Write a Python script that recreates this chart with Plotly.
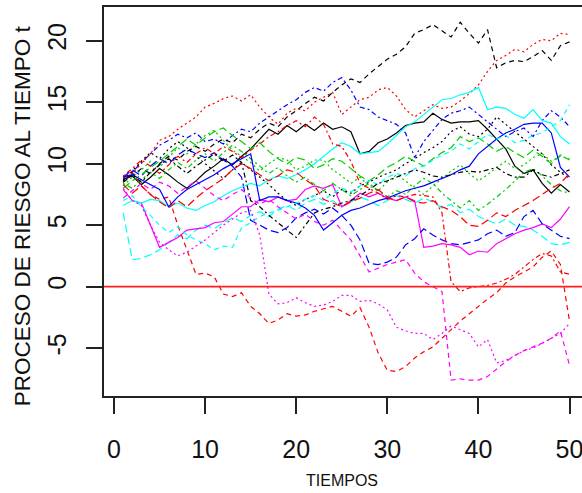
import plotly.graph_objects as go

# time index
t = list(range(1, 51))

s01 = [8.7, 9.0, 8.3, 8.9, 9.6, 9.1, 8.5, 8.0, 8.6, 9.3,
       9.8, 10.4, 9.9, 10.6, 11.2, 12.0, 12.8, 12.4, 13.1, 12.6,
       13.2, 12.7, 13.3, 12.8, 13.0, 12.6, 10.8, 11.0, 11.7, 12.0,
       12.5, 13.1, 13.3, 13.4, 14.1, 13.6, 13.3, 13.4, 13.4, 13.5,
       12.8, 12.0, 11.2, 9.8, 9.2, 9.5, 8.4, 7.6, 8.3, 7.7]
s02 = [8.8, 9.3, 8.2, 7.5, 7.1, 7.3, 5.0, 3.0, 1.0, 1.1,
       0.8, -0.6, -0.8, -0.5, -1.6, -2.2, -3.0, -2.7, -2.2, -2.4,
       -2.3, -2.0, -1.8, -1.6, -2.0, -2.4, -1.7, -3.3, -5.4, -6.8,
       -6.9, -6.5, -5.8, -5.3, -4.9, -4.2, -3.5, -2.8, -2.2, -1.6,
       -1.0, -0.5, 0.3, 0.8, 1.2, 1.6, 2.4, 2.9, 1.8, -2.8]
s03 = [8.2, 8.9, 9.5, 10.2, 9.7, 10.5, 11.3, 10.8, 11.6, 12.3,
       12.7, 11.9, 11.1, 10.6, 10.1, 9.4, 10.0, 10.5, 10.3, 9.5,
       9.8, 10.3, 10.3, 9.5, 9.0, 8.4, 8.9, 8.2, 7.8, 8.5,
       9.1, 8.6, 8.0, 7.5, 8.2, 8.8, 9.4, 9.9, 9.2, 8.6,
       9.1, 9.7, 10.2, 9.6, 9.9, 10.5, 10.8, 10.2, 10.6, 10.4]
s04 = [8.5, 9.3, 10.1, 10.8, 11.5, 11.9, 12.4, 12.1, 12.5, 11.8,
       12.0, 11.6, 12.3, 12.8, 12.6, 13.3, 13.8, 14.3, 14.8, 15.2,
       15.8, 16.2, 15.9, 16.6, 17.0, 16.0, 14.6, 14.4, 13.8, 13.5,
       13.2, 12.5, 10.5, 11.8, 12.7, 13.6, 14.1, 14.3, 14.6, 14.0,
       13.4, 12.8, 12.2, 12.6, 12.9, 12.2, 13.5, 14.3, 13.8, 13.0]
s05 = [6.0, 2.2, 2.3, 2.6, 3.0, 3.6, 4.2, 3.9, 4.6, 5.0,
       4.7, 5.2, 5.6, 5.3, 5.8, 6.1, 5.7, 6.3, 6.6, 6.2,
       6.8, 7.1, 6.7, 7.0, 6.5, 6.9, 7.3, 7.0, 6.6, 7.0,
       7.4, 7.1, 6.8, 7.2, 6.9, 6.4, 6.7, 6.0, 6.3, 5.7,
       5.4, 5.1, 5.5, 5.0, 4.9, 4.6, 4.1, 3.5, 3.4, 3.6]
s06 = [7.9, 7.0, 6.8, 5.0, 3.2, 3.6, 4.0, 4.6, 4.7, 4.8,
       5.2, 5.3, 5.9, 6.5, 6.5, 7.1, 6.9, 7.3, 7.0, 7.1,
       7.9, 8.2, 8.0, 8.3, 6.5, 7.0, 7.6, 7.3, 7.6, 7.2,
       7.0, 7.3, 7.0, 3.2, 3.3, 3.5, 3.4, 3.2, 2.6, 2.9,
       2.8, 3.5, 3.9, 4.3, 4.6, 4.8, 5.1, 4.8, 5.5, 6.5]
s07 = [8.5, 9.0, 9.6, 9.2, 10.0, 10.6, 10.3, 11.0, 11.4, 11.0,
       11.6, 12.0, 11.7, 12.4, 12.1, 12.8, 13.3, 13.0, 13.8, 14.3,
       14.9, 15.4, 15.1, 15.8, 16.4, 16.9, 16.6, 17.3, 17.9, 18.5,
       18.9, 19.5, 20.6, 20.9, 21.3, 20.8, 20.3, 21.5, 20.6, 19.8,
       20.9, 17.8, 18.2, 18.4, 18.3, 18.7, 19.2, 18.4, 19.6, 19.9]
s08 = [8.6, 9.2, 10.0, 10.8, 11.9, 12.2, 12.8, 13.3, 13.8, 14.6,
       14.9, 15.3, 15.5, 15.1, 15.6, 14.6, 13.8, 13.2, 14.1, 14.5,
       14.3, 15.0, 15.4, 15.8, 14.0, 14.6, 15.2, 15.4, 16.0, 16.2,
       15.5, 14.4, 13.8, 14.3, 14.8, 14.5, 14.6, 15.1, 15.7, 16.4,
       17.5, 18.4, 18.8, 19.3, 19.1, 19.7, 20.1, 20.0, 20.6, 20.5]
s09 = [8.4, 8.0, 8.7, 9.3, 8.8, 9.5, 10.1, 9.6, 10.3, 10.8,
       10.2, 10.9, 11.5, 11.0, 10.4, 9.8, 9.2, 9.7, 9.0, 8.5,
       8.9, 8.3, 7.8, 8.4, 7.9, 7.4, 7.9, 8.4, 7.8, 7.3,
       7.8, 7.5, 8.2, 8.8, 8.4, 7.6, 7.0, 6.4, 7.0, 6.2,
       6.7, 7.3, 7.9, 8.6, 9.3, 9.6, 9.0, 8.3, 7.8, 7.6]
s10 = [8.9, 9.5, 9.0, 9.8, 10.4, 10.0, 10.7, 11.2, 10.8, 10.5,
       10.9, 10.3, 9.8, 8.9, 5.4, 5.0, 4.6, 4.4, 4.8, 5.6,
       6.0, 6.3, 5.9, 6.4, 5.8, 5.0, 3.8, 1.9, 1.8, 2.0,
       2.4, 3.4, 3.9, 4.7, 4.2, 3.8, 3.5, 3.4, 3.6, 3.8,
       4.3, 4.6, 4.1, 4.4, 5.7, 6.2, 5.1, 4.6, 4.1, 3.9]
s11 = [6.6, 7.0, 6.8, 7.1, 7.0, 6.5, 6.8, 6.4, 6.2, 6.6,
       6.9, 7.4, 7.8, 8.1, 8.4, 8.2, 8.7, 9.0, 8.8, 9.1,
       9.5, 10.0, 10.6, 11.2, 11.7, 11.4, 10.8, 10.9, 11.0, 11.6,
       12.3, 13.0, 13.4, 14.0, 14.6, 15.2, 15.3, 15.6, 15.8, 16.2,
       14.4, 14.6, 14.5, 14.0, 13.7, 14.4, 13.5, 13.3, 12.2, 11.6]
s12 = [7.2, 7.8, 8.4, 7.9, 8.5, 8.2, 7.6, 8.1, 8.6, 8.0,
       7.4, 7.0, 7.5, 7.9, 7.2, 6.7, 7.1, 6.5, 6.0, 5.5,
       5.9, 5.3, 5.0, 5.4, 4.6, 3.8, 2.5, 1.2, 1.5, 1.8,
       2.0, 2.2, 1.1, 0.4, 0.0, -0.4, -7.6, -7.5, -7.6, -7.6,
       -7.3, -6.7, -6.1, -5.6, -5.2, -4.9, -4.6, -4.2, -3.6, -6.4]
s13 = [8.7, 9.4, 10.2, 10.9, 10.4, 11.2, 11.8, 11.3, 10.6, 10.0,
       9.4, 8.8, 9.5, 10.1, 9.5, 8.9, 8.3, 7.6, 7.0, 6.6,
       7.1, 7.4, 7.8, 7.3, 7.9, 7.6, 8.2, 8.5, 8.9, 9.2,
       9.5, 10.0, 10.4, 10.9, 11.3, 11.8, 12.6, 13.0, 12.4, 12.2,
       12.8, 13.8, 13.2, 12.6, 12.0, 11.4, 10.8, 9.9, 9.3, 8.8]
s14 = [9.0, 9.6, 10.3, 9.8, 9.2, 9.9, 10.6, 10.1, 10.8, 11.3,
       10.8, 11.4, 11.0, 10.5, 11.1, 11.6, 12.2, 12.6, 13.1, 13.5,
       13.0, 13.8, 13.2, 11.6, 11.4, 10.2, 8.4, 8.0, 7.6, 7.1,
       7.4, 7.3, 7.5, 7.4, 7.3, 6.0, 0.4, -0.4, -0.1, 0.0,
       0.1, 0.3, 0.6, 1.0, 1.6, 2.2, 2.7, 2.5, 1.2, 1.0]
s15 = [8.0, 8.6, 9.1, 9.7, 10.2, 10.8, 11.4, 12.0, 11.5, 12.1,
       12.6, 12.9, 12.3, 11.8, 11.2, 11.7, 11.0, 10.4, 10.0, 10.5,
       10.3, 9.6, 9.9, 10.4, 10.2, 9.6, 9.0, 8.6, 9.1, 9.7,
       10.1, 10.6, 10.2, 9.8, 10.4, 10.9, 11.3, 12.2, 11.8, 12.1,
       11.6, 11.0, 11.4, 10.9, 10.5, 11.1, 10.6, 10.0, 10.7, 10.3]
s16 = [8.9, 9.1, 8.7, 8.3, 7.9, 6.5, 7.3, 7.9, 8.3, 8.7,
       9.1, 9.6, 10.0, 10.4, 10.8, 7.0, 7.3, 7.3, 7.0, 6.8,
       6.4, 5.8, 4.6, 5.2, 5.8, 6.2, 6.4, 6.7, 7.0, 7.2,
       7.5, 7.8, 8.0, 8.2, 8.5, 8.8, 9.1, 9.5, 9.8, 10.8,
       11.4, 12.0, 12.5, 12.8, 13.2, 13.3, 13.3, 12.5, 9.7, 8.9]
s17 = [7.0, 7.4, 6.5, 5.8, 5.0, 4.4, 4.9, 4.2, 3.8, 3.5,
       3.0, 3.3, 3.2, 4.8, 5.2, 5.7, 6.0, 6.2, 6.5, 6.8,
       7.1, 7.4, 7.0, 7.6, 8.0, 7.7, 8.2, 8.6, 8.3, 8.9,
       9.2, 9.0, 9.6, 9.8, 10.3, 10.7, 11.0, 11.6, 11.2, 11.8,
       12.4, 12.0, 12.3, 11.7, 11.9, 12.3, 12.5, 13.0, 13.5, 14.8]
s18 = [8.0, 7.0, 6.6, 5.0, 3.6, 3.0, 2.5, 2.8, 3.3, 3.8,
       4.4, 5.0, 5.5, 6.0, 6.2, 4.2, -0.6, -1.4, -1.3, -0.9,
       -1.3, -1.6, -1.5, -1.2, -0.7, -0.7, -1.2, -1.1, -1.4, -1.9,
       -3.3, -3.6, -3.8, -3.8, -4.3, -3.8, -3.2, -3.5, -3.8, -4.9,
       -4.3, -6.2, -6.0, -5.6, -5.2, -5.0, -4.6, -4.2, -3.8, -3.0]
s19 = [8.6, 9.1, 8.5, 9.3, 9.9, 10.4, 9.8, 9.2, 9.8, 10.3,
       10.8, 10.2, 10.7, 10.1, 7.0, 6.5, 5.8, 5.2, 4.6, 4.0,
       5.0, 6.0, 6.3, 6.5, 6.8, 7.0, 7.4, 7.9, 8.4, 8.6,
       8.9, 9.2, 9.5, 9.3, 9.0, 8.9, 9.1, 9.3, 9.4, 9.3,
       9.5, 9.7, 9.2, 8.9, 8.9, 9.5, 9.1, 8.9, 9.2, 9.5]
s20 = [8.3, 7.6, 8.2, 7.5, 6.9, 6.4, 7.0, 6.5, 7.2, 7.8,
       8.3, 8.8, 9.5, 10.0, 9.6, 9.1, 8.6, 9.0, 9.5, 9.3,
       8.7, 8.2, 7.1, 6.8, 6.5, 6.9, 7.2, 7.6, 7.9, 7.3,
       7.0, 7.3, 6.9, 6.8, 7.0, 6.5, 6.2, 5.7, 5.0, 4.9,
       5.4, 6.0, 5.7, 6.2, 6.6, 7.0, 7.5, 8.0, 8.4, 9.2]

series = [s01, s02, s03, s04, s05, s06, s07, s08, s09, s10,
          s11, s12, s13, s14, s15, s16, s17, s18, s19, s20]

x_ticks = [0, 10, 20, 30, 40, 50]
x_ticktext = ["0", "10", "20", "30", "40", "50"]
y_ticks = [-5, 0, 5, 10, 15, 20]
y_ticktext = ["-5", "0", "5", "10", "15", "20"]
hline_value = 0

x_title = "TIEMPOS"
y_title = "PROCESO DE RIESGO AL TIEMPO t"

# R matplot default palette / line types (col=1:6, lty=1:5)
colors = ["#000000", "#FF0000", "#00CD00", "#0000FF", "#00FFFF", "#FF00FF"]
dashes = ["solid", "5px,4px", "2px,3px", "2px,3px,5px,3px", "8px,4px"]

FONT = "Liberation Sans, Arial, sans-serif"
AX = "#222222"

fig = go.Figure()
for i, s in enumerate(series):
    fig.add_trace(go.Scatter(
        x=t, y=s, mode="lines",
        line=dict(color=colors[i % 6], dash=dashes[i % 5], width=1.2),
        showlegend=False, hoverinfo="skip"))

fig.add_hline(y=hline_value, line=dict(color="#FF2020", width=1.8))

fig.update_layout(
    width=582, height=493,
    margin=dict(l=104, r=0, t=7, b=97),
    paper_bgcolor="white", plot_bgcolor="white",
    font=dict(family=FONT, color="#111111"),
    xaxis=dict(range=[-1.1, 51.37], tickvals=x_ticks, ticktext=x_ticktext,
               ticks="outside", ticklen=16, tickwidth=1.5, tickcolor=AX,
               showline=True, linecolor=AX, linewidth=1.5, mirror=True,
               showgrid=False, zeroline=False, automargin=False,
               ticklabeloverflow="allow",
               tickfont=dict(size=25, family=FONT, color="#111111"),
               ticklabelstandoff=14),
    yaxis=dict(range=[-8.89, 22.74], tickvals=y_ticks, ticktext=y_ticktext,
               ticks="outside", ticklen=16, tickwidth=1.5, tickcolor=AX,
               tickangle=-90,
               showline=True, linecolor=AX, linewidth=1.5, mirror=False,
               showgrid=False, zeroline=False, automargin=False,
               tickfont=dict(size=25, family=FONT, color="#111111"),
               ticklabelstandoff=10),
    annotations=[
        dict(text=x_title, xref="paper", yref="paper", x=0.498, y=-0.2185,
             showarrow=False, xanchor="center", yanchor="middle",
             font=dict(size=16, family=FONT, color="#111111")),
        dict(text=y_title, xref="paper", yref="paper", x=-0.1715, y=0.462,
             showarrow=False, xanchor="center", yanchor="middle", textangle=-90,
             font=dict(size=22.5, family=FONT, color="#111111")),
    ],
)

fig.write_html("out.html")
